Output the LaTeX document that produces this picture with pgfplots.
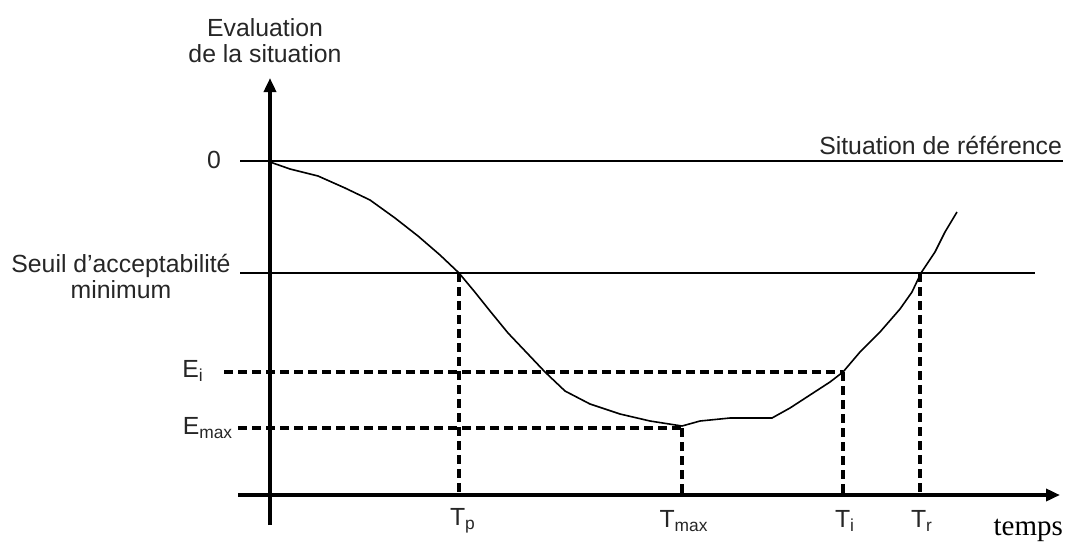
\documentclass[border=0pt]{standalone}
\usepackage{pgfplots}
\pgfplotsset{compat=1.18}
\usepackage{fontspec}
\setmainfont{Liberation Sans}
\newfontfamily\seriffont{Liberation Serif}
\usetikzlibrary{arrows.meta}
\begin{document}
\begin{tikzpicture}[font=\fontsize{12.4pt}{15pt}\selectfont]
\begin{axis}[
    width=536.5pt, height=271.5pt, scale only axis,
    xmin=0, xmax=1073, ymin=0, ymax=543, y dir=reverse,
    hide axis, clip=false,
    every axis plot/.append style={black, mark=none},
    guide/.style={line width=1.8pt, dash pattern=on 4.5pt off 2.5pt},
    ]
  % axes (pixel coordinates, y downwards)
  \addplot[line width=1.8pt, -{Triangle[length=7pt,width=6pt]}] coordinates {(270,525) (270,78)};
  \addplot[line width=1.8pt, -{Triangle[length=7pt,width=6pt]}] coordinates {(238,495) (1060,495)};
  % reference and threshold levels
  \addplot[line width=0.8pt] coordinates {(240,161) (1063,161)};
  \addplot[line width=0.8pt] coordinates {(240,273) (1035,273)};
  % dashed guides
  \addplot[guide] coordinates {(224,372) (843,372)};
  \addplot[guide] coordinates {(238,428) (682,428)};
  \addplot[guide] coordinates {(459,273) (459,495)};
  \addplot[guide] coordinates {(682,428) (682,495)};
  \addplot[guide] coordinates {(843,372) (843,495)};
  \addplot[guide] coordinates {(920,273) (920,495)};
  % evaluation curve
  \addplot[line width=0.8pt] coordinates {
    (270,162) (290,169) (318,176) (345,188) (370,200) (395,218) (418,236)
    (440,255) (459,273) (474,291) (490,311) (508,333) (527,353) (545,372)
    (565,391) (590,404) (620,414) (650,421) (682,426) (700,421) (730,418)
    (772,418) (790,408) (810,395) (830,382) (843,372) (860,352) (880,332)
    (900,309) (912,292) (921,273) (935,252) (945,232) (957,212)};
  % texts
  \node[align=center, black!85] at (axis cs:265,41) {Evaluation\\[-2pt]de la situation};
  \node[black!85] at (axis cs:214,160) {0};
  \node[anchor=east, black!85] at (axis cs:1069,145) {Situation de référence};
  \node[align=center, black!85] at (axis cs:121,276) {Seuil d'acceptabilité\\[-2pt]minimum};
  \node[black!85] at (axis cs:193,371) {E\textsubscript{i}};
  \node[black!85] at (axis cs:208,428) {E\textsubscript{max}};
  \node[black!85] at (axis cs:463,521) {T\textsubscript{p}};
  \node[black!85] at (axis cs:684,521) {T\textsubscript{max}};
  \node[black!85] at (axis cs:845,521) {T\textsubscript{i}};
  \node[black!85] at (axis cs:922,521) {T\textsubscript{r}};
  \node[anchor=east, font=\seriffont\fontsize{14.5pt}{16pt}\selectfont] at (axis cs:1070,530) {temps};
\end{axis}
\pgfresetboundingbox
\path[use as bounding box] (current axis.south west) rectangle (current axis.north east);
\end{tikzpicture}
\end{document}
